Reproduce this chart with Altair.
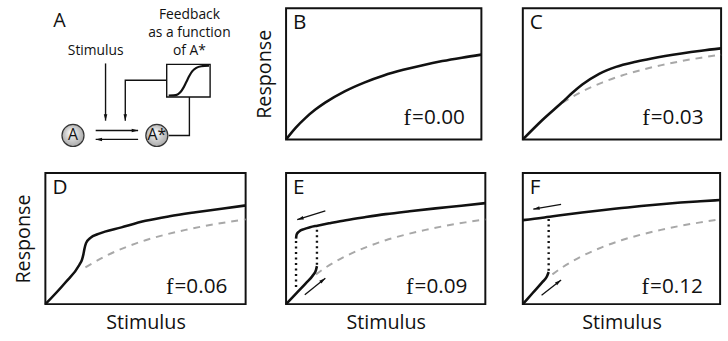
import math

import altair as alt
import pandas as pd

SANS = "Open Sans"
SERIF = "Liberation Serif"
INK = "#111111"
GREY = "#a8a8a8"

# ---------------------------------------------------------------------------
# Stimulus-response curves (both axes scaled 0..1)
# ---------------------------------------------------------------------------
# response without feedback (f = 0); drawn dashed in the other panels
BASE_X = [0.0, 0.05, 0.10, 0.15, 0.20, 0.30, 0.40, 0.50, 0.60, 0.70, 0.80, 0.90, 1.00]
BASE_Y = [0.0, 0.090, 0.164, 0.227, 0.280, 0.366, 0.433, 0.487, 0.530, 0.566, 0.597, 0.623, 0.646]

C_X = [0.0, 0.10, 0.20, 0.25, 0.30, 0.385, 0.47, 0.57, 0.65, 0.80, 0.90, 1.00]
C_Y = [0.0, 0.150, 0.285, 0.355, 0.418, 0.500, 0.553, 0.592, 0.617, 0.655, 0.676, 0.694]

D_X = [0.0, 0.10, 0.17, 0.183, 0.19, 0.195, 0.203, 0.225, 0.265, 0.38, 0.50, 0.62, 0.75, 0.88, 1.00]
D_Y = [0.0, 0.165, 0.300, 0.340, 0.380, 0.420, 0.465, 0.505, 0.535, 0.585, 0.635, 0.670, 0.700, 0.727, 0.752]

E_LOW_X = [0.0, 0.05, 0.10, 0.135, 0.150, 0.155]
E_LOW_Y = [0.0, 0.080, 0.160, 0.220, 0.260, 0.290]
E_UP_X = [0.05, 0.053, 0.065, 0.09, 0.12, 0.157, 0.22, 0.30, 0.40, 0.50, 0.62, 0.75, 0.88, 1.00]
E_UP_Y = [0.50, 0.530, 0.553, 0.572, 0.586, 0.598, 0.617, 0.640, 0.664, 0.686, 0.708, 0.730, 0.750, 0.770]

F_LOW_X = [0.0, 0.05, 0.10, 0.122, 0.131]
F_LOW_Y = [0.0, 0.085, 0.170, 0.210, 0.245]
F_UP_X = [0.0, 0.1, 0.2, 0.3, 0.4, 0.5, 0.6, 0.7, 0.8, 0.9, 1.0]
F_UP_Y = [0.640, 0.658, 0.679, 0.698, 0.716, 0.732, 0.748, 0.762, 0.774, 0.784, 0.793]

# feedback strength of each panel B..F
FEEDBACK = [0.00, 0.03, 0.06, 0.09, 0.12]

# hysteresis jumps: (stimulus, from response, to response)
E_JUMPS = [(0.05, 0.13, 0.49), (0.155, 0.30, 0.585)]
F_JUMPS = [(0.131, 0.255, 0.655)]

# direction arrows: (tail x, tail y, head x, head y)
E_ARROWS = [(0.197, 0.711, 0.056, 0.644), (0.094, 0.072, 0.197, 0.198)]
F_ARROWS = [(0.194, 0.761, 0.053, 0.724), (0.095, 0.067, 0.194, 0.184)]

# ---------------------------------------------------------------------------
# Schematic of the feedback loop (drawn in its own pixel frame)
# ---------------------------------------------------------------------------
NODE_LABELS = ["A", "A*"]
NODE_X = [74, 159]
NODE_Y = [135, 135]

# polylines: x, y, whether the last point carries an arrowhead
WIRES = {
    "stimulus": ([107, 107], [62, 120], True),
    "forward": ([97, 140], [130, 130], True),
    "backward": ([140, 97], [139, 139], True),
    "feedback": ([169, 127, 127], [79, 79, 120], True),
    "readout": ([171, 192, 192], [135, 135, 96], False),
}
BOX = (169, 213, 63, 96)
SIGMOID_X = [171, 176, 180, 183, 186, 189, 192, 195, 199, 204, 212]
SIGMOID_Y = [94.5, 94.3, 93.4, 91.0, 86.5, 80.5, 74.5, 69.8, 66.5, 64.8, 64.2]
HEADER_LINES = ["Feedback", "as a function", "of A*"]
HEADER_Y = [12.5, 31, 49.5]

HEAD = "M0,0L-0.55,2L0.55,2Z"

# panel sizes (plot areas) and gaps between them
ROW_H = 133
GAP_X, GAP_Y = 38, 34
A_FRAME = (46, 6)          # top-left corner of the schematic frame
A_W = 206


def schematic():
    x0, y0 = A_FRAME
    sx = alt.Scale(domain=[x0, x0 + A_W], nice=False, zero=False)
    sy = alt.Scale(domain=[y0, y0 + ROW_H], nice=False, zero=False, reverse=True)

    def X(f):
        return alt.X(f, type="quantitative", scale=sx, axis=None)

    def Y(f):
        return alt.Y(f, type="quantitative", scale=sy, axis=None)

    rows, heads = [], []
    for name, (xs, ys, head) in WIRES.items():
        for i, (a, b) in enumerate(zip(xs, ys)):
            rows.append({"wire": name, "i": i, "x": a, "y": b})
        if head:
            dx, dy = xs[-1] - xs[-2], ys[-1] - ys[-2]
            heads.append({"x": xs[-1], "y": ys[-1],
                          "ang": math.degrees(math.atan2(dx, -dy)) % 360})
    wires = alt.Chart(pd.DataFrame(rows)).mark_line(color=INK, strokeWidth=1.4).encode(
        x=X("x"), y=Y("y"), detail="wire:N", order=alt.Order("i:Q"))
    tips = alt.Chart(pd.DataFrame(heads)).mark_point(
        shape=HEAD, filled=True, size=42, color=INK, opacity=1).encode(
        x=X("x"), y=Y("y"), angle=alt.Angle("ang:Q", scale=None))

    box = alt.Chart(pd.DataFrame([dict(x=BOX[0], x2=BOX[1], y=BOX[2], y2=BOX[3])])).mark_rect(
        fill="white", stroke=INK, strokeWidth=1.4).encode(x=X("x"), x2="x2", y=Y("y"), y2="y2")
    sig = alt.Chart(pd.DataFrame({"x": SIGMOID_X, "y": SIGMOID_Y})).mark_line(
        color=INK, strokeWidth=2.2, interpolate="monotone").encode(x=X("x"), y=Y("y"))

    shade = alt.RadialGradient(
        gradient="radial", x1=0.4, y1=0.35, r1=0.0, x2=0.5, y2=0.5, r2=0.6,
        stops=[alt.GradientStop(color="#ffffff", offset=0),
               alt.GradientStop(color="#9c9c9c", offset=1)])
    nodes_df = pd.DataFrame({"x": NODE_X, "y": NODE_Y, "t": NODE_LABELS})
    nodes = alt.Chart(nodes_df).mark_point(
        shape="circle", filled=True, size=500, fill=shade, stroke="#333333",
        strokeWidth=1.2, opacity=1).encode(x=X("x"), y=Y("y"))
    node_txt = alt.Chart(nodes_df).mark_text(
        font=SANS, fontSize=16, color=INK, baseline="middle").encode(
        x=X("x"), y=Y("y"), text="t:N")

    header = alt.Chart(pd.DataFrame({"x": [192] * 3, "y": HEADER_Y, "t": HEADER_LINES})).mark_text(
        font=SANS, fontSize=14, color=INK, baseline="middle").encode(x=X("x"), y=Y("y"), text="t:N")
    stim = alt.Chart(pd.DataFrame({"x": [97], "y": [49.5], "t": ["Stimulus"]})).mark_text(
        font=SANS, fontSize=14, color=INK, baseline="middle").encode(x=X("x"), y=Y("y"), text="t:N")
    letter = alt.Chart(pd.DataFrame({"x": [54], "y": [19], "t": ["A"]})).mark_text(
        font=SANS, fontSize=20, color=INK, baseline="middle", align="left").encode(
        x=X("x"), y=Y("y"), text="t:N")

    return alt.layer(wires, tips, box, sig, nodes, node_txt, header, stim, letter).properties(
        width=A_W, height=ROW_H, view=alt.ViewBackground(stroke=None))


def panel(letter, f, curves, w, dashed_from=None, jumps=(), arrows=(),
          xtitle=None, ytitle=None, fy=0.16):
    h = ROW_H
    xs = alt.Scale(domain=[0, 1], nice=False, zero=False)
    ys = alt.Scale(domain=[0, 1], nice=False, zero=False)

    def ax(title, pad):
        if title is None:
            return None
        return alt.Axis(title=title, labels=False, ticks=False, domain=False, grid=False,
                        titleFont=SANS, titleFontSize=20, titleFontWeight="normal",
                        titleColor=INK, titlePadding=pad)

    def X(fld):
        return alt.X(fld, type="quantitative", scale=xs, axis=ax(xtitle, 9))

    def Y(fld):
        return alt.Y(fld, type="quantitative", scale=ys, axis=ax(ytitle, 12))

    layers = []
    if dashed_from is not None:
        base = pd.DataFrame({"x": BASE_X, "y": BASE_Y})
        base = base[base["x"] >= dashed_from]
        layers.append(alt.Chart(base).mark_line(
            color=GREY, strokeWidth=2, strokeDash=[7, 6], interpolate="monotone").encode(
            x=X("x"), y=Y("y")))

    rows = []
    for seg, (cx, cy) in enumerate(curves):
        rows += [{"seg": seg, "x": a, "y": b} for a, b in zip(cx, cy)]
    layers.append(alt.Chart(pd.DataFrame(rows)).mark_line(
        color=INK, strokeWidth=2.6, interpolate="monotone").encode(
        x=X("x"), y=Y("y"), detail="seg:N"))

    if jumps:
        jd = pd.DataFrame(list(jumps), columns=["x", "y", "y2"])
        layers.append(alt.Chart(jd).mark_rule(
            color=INK, strokeWidth=2.4, strokeDash=[2, 3.6]).encode(
            x=X("x"), y=Y("y"), y2="y2"))

    if arrows:
        ad = pd.DataFrame(list(arrows), columns=["x", "y", "x2", "y2"])
        ad["ang"] = [math.degrees(math.atan2((r.x2 - r.x) * w, (r.y2 - r.y) * h)) % 360
                     for r in ad.itertuples()]
        layers.append(alt.Chart(ad).mark_rule(color=INK, strokeWidth=1.3).encode(
            x=X("x"), y=Y("y"), x2="x2", y2="y2"))
        layers.append(alt.Chart(ad).mark_point(
            shape=HEAD, filled=True, size=42, color=INK, opacity=1).encode(
            x=X("x2"), y=Y("y2"), angle=alt.Angle("ang:Q", scale=None)))

    lab = pd.DataFrame({"x": [0.035], "y": [0.885], "t": [letter]})
    layers.append(alt.Chart(lab).mark_text(
        font=SANS, fontSize=21, color=INK, align="left", baseline="middle").encode(
        x=X("x"), y=Y("y"), text="t:N"))

    fl = pd.DataFrame({"x": [0.64], "y": [fy], "f": ["f"], "v": [f"={f:.2f}"]})
    layers.append(alt.Chart(fl).mark_text(
        font=SERIF, fontSize=23, color=INK, align="right", baseline="middle").encode(
        x=X("x"), y=Y("y"), text="f:N"))
    layers.append(alt.Chart(fl).mark_text(
        font=SANS, fontSize=21, color=INK, align="left", baseline="middle", dx=1).encode(
        x=X("x"), y=Y("y"), text="v:N"))

    return alt.layer(*layers).properties(
        width=w, height=h, view=alt.ViewBackground(stroke=INK, strokeWidth=2))


pB = panel("B", FEEDBACK[0], [(BASE_X, BASE_Y)], 198, ytitle="Response")
pC = panel("C", FEEDBACK[1], [(C_X, C_Y)], 201, dashed_from=0.2)
pD = panel("D", FEEDBACK[2], [(D_X, D_Y)], 203, dashed_from=0.2,
           xtitle="Stimulus", ytitle="Response", fy=0.13)
pE = panel("E", FEEDBACK[3], [(E_LOW_X, E_LOW_Y), (E_UP_X, E_UP_Y)], 202,
           dashed_from=0.15, jumps=E_JUMPS, arrows=E_ARROWS, xtitle="Stimulus", fy=0.13)
pF = panel("F", FEEDBACK[4], [(F_LOW_X, F_LOW_Y), (F_UP_X, F_UP_Y)], 200,
           dashed_from=0.15, jumps=F_JUMPS, arrows=F_ARROWS, xtitle="Stimulus", fy=0.13)

# plot areas are laid out flush: axis titles sit in the gaps between panels
chart = alt.concat(
    schematic(), pB, pC, pD, pE, pF,
    columns=3,
    spacing={"row": GAP_Y, "column": GAP_X},
    bounds="flush",
    align={"row": "all", "column": "none"},
).properties(
    padding={"left": 13, "top": 5, "right": 0, "bottom": 0},
    background="white",
)

chart.save("out.html", embed_options={"renderer": "svg", "actions": False})
